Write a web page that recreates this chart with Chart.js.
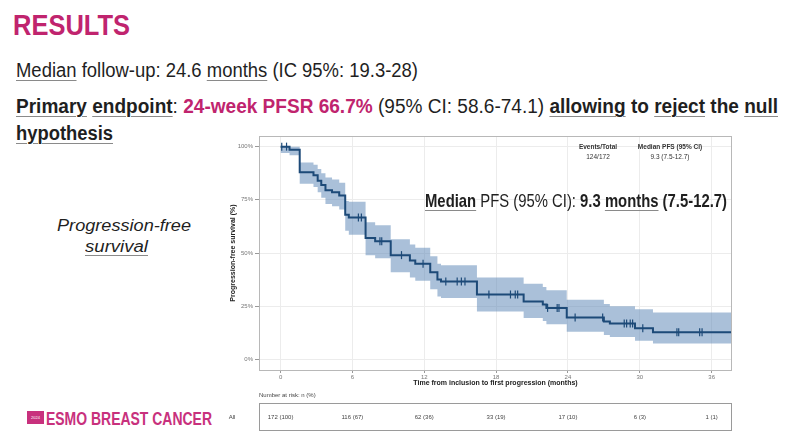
<!DOCTYPE html>
<html>
<head>
<meta charset="utf-8">
<script src="https://cdn.jsdelivr.net/npm/chart.js@4.4.1/dist/chart.umd.min.js"></script>
<style>
  html, body { margin: 0; padding: 0; background: #fff; }
  body { width: 800px; height: 437px; position: relative; overflow: hidden;
         font-family: "Liberation Sans", Arial, sans-serif; color: #1f1f1f; }
  .t { position: absolute; white-space: nowrap; line-height: 1; transform-origin: 0 0; }
  .u { text-decoration: underline; text-decoration-color: #8a8a8a; text-decoration-thickness: 1px; text-underline-offset: 3px; }
  .pink { color: #c0246e; }
  #km { position: absolute; left: 215px; top: 130px; }
  #logoBox { position: absolute; left: 27px; top: 411px; width: 17px; height: 13px; background: #c8317d;
             color: #fff; font-size: 4px; line-height: 13px; text-align: center; }
</style>
</head>
<body>
<div class="t pink" style="left:13px;top:11px;font-size:29px;font-weight:bold" data-w="117">RESULTS</div>
<div class="t" style="left:16px;top:60px;font-size:20px" data-w="402"><span class="u">Median</span> follow-up: 24.6 <span class="u">months</span> (IC 95%: 19.3-28)</div>
<div class="t" style="left:16px;top:96px;font-size:20px" data-w="762"><b class="u">Primary</b> <b class="u">endpoint</b>: <b class="pink">24-week PFSR 66.7%</b> (95% CI: 58.6-74.1) <b><span class="u">allowing</span> to <span class="u">reject</span> the <span class="u">null</span></b></div>
<div class="t" style="left:16px;top:123px;font-size:20px;font-weight:bold" data-w="97"><span class="u">hypothesis</span></div>
<div class="t" style="left:57px;top:218px;font-size:16px;font-style:italic" data-w="134">Progression-free</div>
<div class="t" style="left:85px;top:239px;font-size:16px;font-style:italic" data-w="63"><span class="u">survival</span></div>
<div id="logoBox">2024</div>
<div class="t" style="left:46px;top:409px;font-size:19px;font-weight:bold;color:#c8317d" data-w="166">ESMO BREAST CANCER</div>

<canvas id="km" width="530" height="305"></canvas>

<div class="t" style="left:425px;top:191px;font-size:19px" data-w="302"><b class="u">Median</b> PFS (95% CI): <b>9.3 <span class="u">months</span> (7.5-12.7)</b></div>

<script>
// Kaplan-Meier estimate (months, %)
const kmTime = [0, 0.75, 1.6, 2.75, 3.1, 3.4, 3.75, 4.3, 4.9, 5.4, 5.7, 7.1, 7.9, 9.2, 10.8, 11.25, 12.5, 13.1, 13.4, 16.4, 20.3, 21.9, 22.2, 23.9, 27.0, 27.5, 29.6, 31.1, 37.7];
const kmSurv = [100, 98.5, 88, 86.5, 84, 82, 79.5, 78.5, 77, 68, 66.7, 57, 55.5, 49, 46.5, 45, 41, 37.5, 36.6, 30.5, 27.2, 25.8, 24.2, 19.7, 17.8, 16.9, 14.6, 12.7, 12.7];
const ciLower = [97, 96, 82.5, 81, 78.5, 76, 73, 72, 70.5, 60.5, 58.6, 49, 47.5, 41, 38.5, 37, 33, 29.5, 28.8, 22.5, 19.5, 18, 16.5, 13, 11.5, 10.5, 8.8, 7.5, 7.5];
const ciUpper = [100, 100, 92.5, 91.5, 89.5, 87.5, 85.5, 84.5, 83, 74.5, 74.1, 64.5, 63, 56.5, 54, 52.5, 48.5, 45, 44.3, 38.5, 35.5, 34, 32.5, 28, 26, 25, 23.5, 22, 22];

// censored observations
const censorTime = [0.1, 0.5, 6.5, 6.75, 8.3, 8.45, 10.1, 11.9, 13.8, 14.75, 15.1, 15.4, 17.4, 19.2, 19.6, 19.8, 22.3, 23.1, 23.25, 24.6, 26.9, 28.7, 28.9, 29.2, 29.4, 30.25, 33.1, 33.25, 35.0, 35.2];
const censorSurv = [100, 100, 66.7, 66.7, 55.5, 55.5, 49, 45, 36.6, 36.6, 36.6, 36.6, 30.5, 30.5, 30.5, 30.5, 24.2, 24.2, 24.2, 19.7, 19.7, 16.9, 16.9, 16.9, 16.9, 14.6, 12.7, 12.7, 12.7, 12.7];

const xTickVals = [0, 6, 12, 18, 24, 30, 36];
const yTickVals = [0, 25, 50, 75, 100];
const riskCounts = ['172 (100)', '116 (67)', '62 (36)', '33 (19)', '17 (10)', '6 (3)', '1 (1)'];
const legendHeads = ['Events/Total', 'Median PFS (95% CI)'];
const legendVals = ['124/172', '9.3 (7.5-12.7)'];

// squeeze slide text to its width in the picture
document.querySelectorAll('[data-w]').forEach(el => {
  const w = el.getBoundingClientRect().width;
  el.style.transform = 'scaleX(' + (el.dataset.w / w) + ')';
});

const navy = '#1d4a78';
const font = '"Liberation Sans", Arial, sans-serif';
Chart.defaults.font.family = font;

function pts(xs, ys) {
  return xs.map((x, i) => ({ x: x, y: ys[i] }));
}

const panelPlugin = {
  id: 'panel',
  afterDraw(chart) {
    const { ctx, chartArea: a } = chart;
    const x = chart.scales.x;
    ctx.save();
    ctx.strokeStyle = '#b8b8b8';
    ctx.lineWidth = 1;
    ctx.strokeRect(a.left + 0.5, a.top + 0.5, a.right - a.left - 1, a.bottom - a.top);

    ctx.textAlign = 'center';
    ctx.textBaseline = 'middle';
    ctx.fillStyle = '#333';
    ctx.font = 'bold 6.5px ' + font;
    ctx.fillText(legendHeads[0], 383, 17);
    ctx.fillText(legendHeads[1], 455, 17);
    ctx.font = '6.5px ' + font;
    ctx.fillText(legendVals[0], 383, 27);
    ctx.fillText(legendVals[1], 455, 27);

    // risk table
    ctx.fillStyle = '#444';
    ctx.textAlign = 'left';
    ctx.font = '6px ' + font;
    ctx.fillText('Number at risk: n (%)', a.left, 265);
    ctx.strokeStyle = '#9a9a9a';
    ctx.strokeRect(a.left + 0.5, 273.5, a.right - a.left - 1, 27);
    ctx.textAlign = 'center';
    ctx.fillText('All', 17, 287);
    riskCounts.forEach((txt, i) => {
      ctx.fillText(txt, x.getPixelForValue(xTickVals[i]), 287);
    });
    ctx.restore();
  }
};

const ctx = document.getElementById('km').getContext('2d');
const myChart = new Chart(ctx, {
  type: 'scatter',
  data: {
    datasets: [
      {
        label: 'upper',
        data: pts(kmTime, ciUpper),
        showLine: true,
        stepped: true,
        borderWidth: 0,
        pointRadius: 0,
        fill: '+1',
        backgroundColor: 'rgba(100,140,185,0.55)',
        order: 3
      },
      {
        label: 'lower',
        data: pts(kmTime, ciLower),
        showLine: true,
        stepped: true,
        borderWidth: 0,
        pointRadius: 0,
        fill: false,
        order: 2
      },
      {
        label: 'PFS',
        data: pts(kmTime, kmSurv),
        showLine: true,
        stepped: true,
        borderColor: navy,
        borderWidth: 2,
        pointRadius: 0,
        fill: false,
        order: 1
      },
      {
        label: 'censored',
        data: pts(censorTime, censorSurv),
        showLine: false,
        pointStyle: 'line',
        rotation: 90,
        pointRadius: 4,
        borderColor: navy,
        borderWidth: 1.2,
        order: 0
      }
    ]
  },
  options: {
    responsive: false,
    animation: false,
    devicePixelRatio: 1,
    layout: { padding: { left: 0, right: 13, top: 6, bottom: 47 } },
    plugins: {
      legend: { display: false },
      tooltip: { enabled: false },
      filler: { drawTime: 'beforeDatasetsDraw' }
    },
    scales: {
      x: {
        type: 'linear',
        min: -1.8,
        max: 37.7,
        afterBuildTicks: s => { s.ticks = xTickVals.map(v => ({ value: v })); },
        afterFit: s => { s.height = 18; },
        border: { display: false },
        grid: { color: '#ececec', tickColor: '#999', tickLength: 3 },
        ticks: { color: '#777', font: { size: 6 }, padding: 1, maxRotation: 0, callback: v => String(v) },
        title: {
          display: true,
          text: 'Time from inclusion to first progression (months)',
          color: '#222',
          font: { size: 7, weight: 'bold' },
          padding: { top: 0, bottom: 1 }
        }
      },
      y: {
        type: 'linear',
        min: -5,
        max: 105,
        afterBuildTicks: s => { s.ticks = yTickVals.map(v => ({ value: v })); },
        afterFit: s => { s.width = 44; },
        border: { display: false },
        grid: { color: '#ececec', tickColor: '#999', tickLength: 4 },
        ticks: { color: '#777', font: { size: 6 }, padding: 2, callback: v => v + '%' },
        title: {
          display: true,
          text: 'Progression-free survival (%)',
          color: '#222',
          font: { size: 7, weight: 'bold' },
          padding: { top: 14, bottom: 0 }
        }
      }
    }
  },
  plugins: [panelPlugin]
});
</script>
</body>
</html>
